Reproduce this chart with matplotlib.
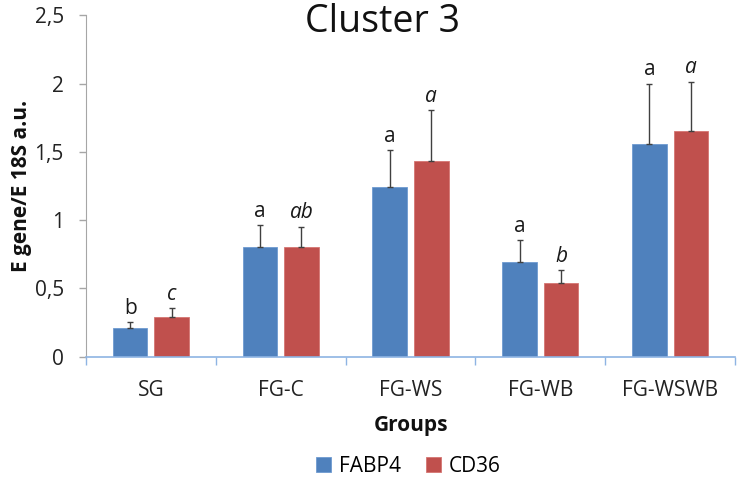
import matplotlib
matplotlib.use("Agg")
import matplotlib.pyplot as plt
import numpy as np

plt.rcParams['font.family'] = ['Open Sans', 'DejaVu Sans']

categories = ["SG", "FG-C", "FG-WS", "FG-WB", "FG-WSWB"]
fabp4 = [0.208, 0.80, 1.24, 0.696, 1.555]
fabp4_err = [0.044, 0.162, 0.273, 0.158, 0.445]
cd36 = [0.293, 0.80, 1.433, 0.542, 1.65]
cd36_err = [0.061, 0.152, 0.373, 0.093, 0.363]
fabp4_letters = ["b", "a", "a", "a", "a"]
cd36_letters = ["c", "ab", "a", "b", "a"]
y_ticks = [0, 0.5, 1, 1.5, 2, 2.5]
y_ticklabels = ["0", "0,5", "1", "1,5", "2", "2,5"]

blue = "#4F81BD"
red = "#C0504D"

fig = plt.figure(figsize=(7.39, 4.79), dpi=100)
ax = fig.add_axes([86/739, 122.3/479, 649/739, 341.5/479])

x = np.arange(len(categories))
w = 0.266
off = 0.16
ekw = dict(ecolor="#404040", elinewidth=1.0, capsize=2.0, capthick=1.0)
ax.bar(x - off, fabp4, w, color=blue, edgecolor="#6F9BD1", linewidth=0.6, label="FABP4",
       yerr=[np.zeros(5), fabp4_err], error_kw=ekw)
ax.bar(x + off, cd36, w, color=red, edgecolor="#D57572", linewidth=0.6, label="CD36",
       yerr=[np.zeros(5), cd36_err], error_kw=ekw)

for i in range(len(categories)):
    ax.text(x[i] - off, fabp4[i] + fabp4_err[i] + 0.025, fabp4_letters[i], ha="center", va="bottom",
            fontsize=15, color="#1a1a1a")
    ax.text(x[i] + off, cd36[i] + cd36_err[i] + 0.025, cd36_letters[i], ha="center", va="bottom",
            fontsize=15, color="#1a1a1a", style="italic")

ax.set_xlim(-0.5, len(categories) - 0.5)
ax.set_ylim(0, 2.5)
ax.set_yticks(y_ticks)
ax.set_yticklabels(y_ticklabels, fontsize=15, color="#222222")
ax.set_xticks(x)
ax.set_xticklabels(categories, fontsize=15, color="#222222")
ax.tick_params(axis="x", length=0, pad=17)
ax.set_xticks(np.arange(-0.5, len(categories)), minor=True)
ax.tick_params(axis="x", which="minor", length=6, color="#8EB4E3", width=1)
ax.tick_params(axis="y", length=5, color="#A6A6A6", width=1, pad=11)

for s in ["top", "right"]:
    ax.spines[s].set_visible(False)
ax.spines["left"].set_color("#A6A6A6")
ax.spines["bottom"].set_color("#8EB4E3")
ax.spines["bottom"].set_linewidth(1.2)

ax.set_ylabel("E gene/E 18S a.u.", fontsize=15, fontweight="bold", color="#111111", labelpad=2)
ax.set_xlabel("Groups", fontsize=15, fontweight="bold", color="#111111", labelpad=10)

fig.text(0.518, 0.954, "Cluster 3", ha="center", va="center", fontsize=27, color="#111111")

fig.legend(loc="center", bbox_to_anchor=(0.553, 0.027), ncol=2, frameon=False, fontsize=15,
           handlelength=0.7, handleheight=0.7, handletextpad=0.4, columnspacing=1.2)

fig.savefig("out.png", dpi=100)
